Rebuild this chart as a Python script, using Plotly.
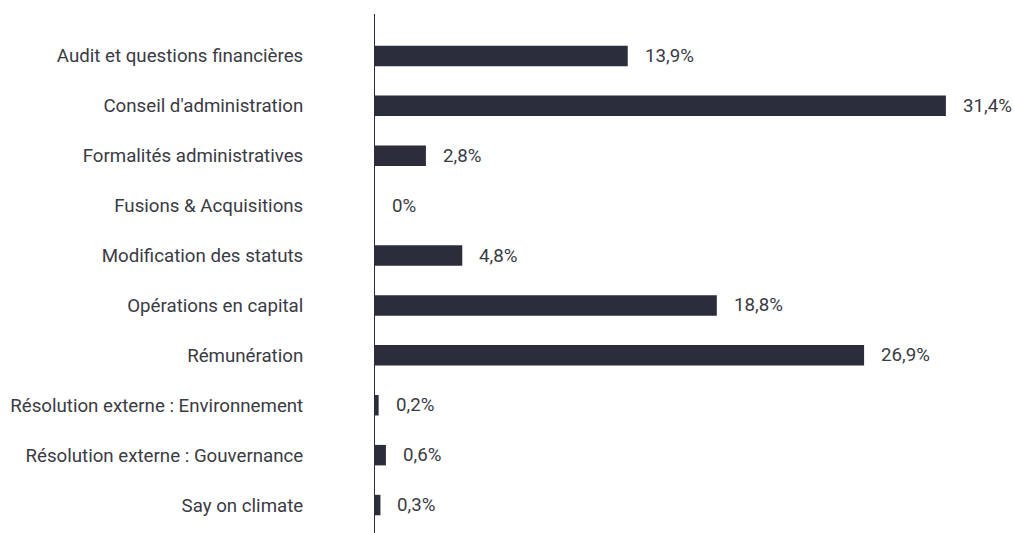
import plotly.graph_objects as go

categories = [
    "Audit et questions financières",
    "Conseil d'administration",
    "Formalités administratives",
    "Fusions & Acquisitions",
    "Modification des statuts",
    "Opérations en capital",
    "Rémunération",
    "Résolution externe : Environnement",
    "Résolution externe : Gouvernance",
    "Say on climate",
]
values = [13.9, 31.4, 2.8, 0, 4.8, 18.8, 26.9, 0.2, 0.6, 0.3]
labels = [("%g" % v).replace(".", ",") + "%" for v in values]

BAR = "#2b2d3a"
TXT = "#3a3b44"
FS = 18.7

fig = go.Figure(go.Bar(
    x=values, y=categories, orientation="h",
    marker=dict(color=BAR, line=dict(width=0)),
    hoverinfo="skip",
))

for c, v, t in zip(categories, values, labels):
    fig.add_annotation(x=v, y=c, text=t, showarrow=False, xanchor="left",
                       xshift=15, font=dict(family="Roboto", size=FS, color=TXT))

fig.update_layout(
    width=1014, height=533,
    margin=dict(l=375, r=39, t=14, b=0),
    paper_bgcolor="white", plot_bgcolor="white",
    bargap=0.59,
    showlegend=False,
    font=dict(family="Roboto", size=FS, color=TXT),
    xaxis=dict(range=[0, 33], visible=False, fixedrange=True),
    yaxis=dict(range=[9.56, -0.84], showline=True, linecolor=BAR, linewidth=1,
               showgrid=False, zeroline=False, ticks="", ticklabelstandoff=67,
               fixedrange=True,
               tickfont=dict(family="Roboto", size=FS, color=TXT)),
)

fig.write_html("out.html", config={"displayModeBar": False},
               post_script="document.body.style.margin='0';document.body.style.overflow='hidden';")
